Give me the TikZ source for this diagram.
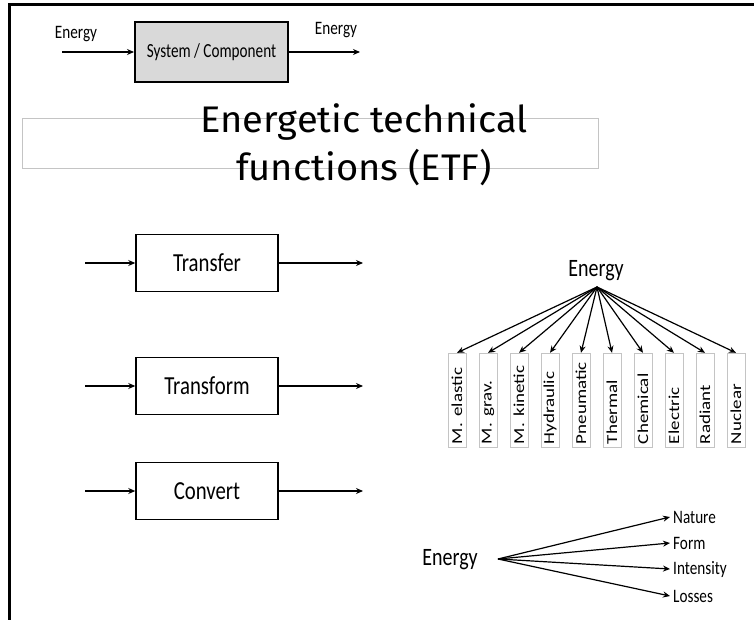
\documentclass[tikz,border=0pt]{standalone}
\usepackage{fontspec}
\setmainfont{Carlito}
\newfontfamily\titlefont{Fira Sans}
\usetikzlibrary{arrows.meta, positioning}
\definecolor{boxgray}{HTML}{D9D9D9}
\definecolor{framegray}{HTML}{C4C4C4}
\newcommand{\squish}[1]{\scalebox{0.8}[1]{#1}}
\newcommand{\squishup}[1]{\scalebox{1}[0.8]{#1}}

\begin{document}
\begin{tikzpicture}[x=1pt, y=-1pt, font=\fontsize{26}{28}\selectfont,
    fbox/.style={draw, line width=1.5pt, minimum width=142pt, minimum height=57pt},
    arr/.style={-{Stealth[length=7pt, width=6pt]}, line width=1.4pt},
    kind/.style={draw=framegray, rotate=90, text width=88pt, align=left, inner xsep=3pt,
      inner ysep=0pt, minimum height=18pt, font=\fontsize{19}{20}\selectfont}]
    \useasboundingbox (0,0) rectangle (754,620);
    % frame
    \draw[line width=3pt] (9,620) -- (9,5) -- (754,5);
    % system / component
    \node[fbox, fill=boxgray, line width=2pt, minimum width=153pt, minimum height=60pt,
      font=\fontsize{20}{22}\selectfont] (sys) at (211.5,52) {\scalebox{0.76}[1]{System / Component}};
    \coordinate (sysin) at (62,52);
    \coordinate (sysout) at (360,52);
    \draw[arr, line width=2pt] (sysin) -- (sys);
    \draw[arr, line width=2pt] (sys) -- (sysout);
    \node[font=\fontsize{19}{21}\selectfont] (ein) at (76,34) {\squish{Energy}};
    \node[font=\fontsize{19}{21}\selectfont] (eout) at (336,30) {\squish{Energy}};
    % title
    \node[draw=framegray, minimum width=576pt, minimum height=50pt] (titlebox) at (310,143) {};
    \node[align=center, font=\titlefont\fontsize{37}{48}\selectfont] (title) at (364,145)
      {\scalebox{1.03}[1]{Energetic technical}\\\scalebox{1.03}[1]{functions (ETF)}};
    % ETF boxes
    \foreach \name/\txt/\yy in {transfer/Transfer/263, transform/Transform/386, convert/Convert/491}{
      \node[fbox] (\name) at (207,\yy) {\squish{\txt}};
      \coordinate (\name-in) at (85,\yy);
      \coordinate (\name-out) at (363,\yy);
      \draw[arr] (\name-in) -- (\name);
      \draw[arr] (\name) -- (\name-out);
    }
    % energy kinds
    \node[font=\fontsize{25}{27}\selectfont] (etree) at (596,271) {\squish{Energy}};
    \coordinate (apex) at (597,287);
    \foreach \lab [count=\i] in {M. elastic, M. grav., M. kinetic, Hydraulic, Pneumatic, Thermal, Chemical, Electric, Radiant, Nuclear}{
      \node[kind] (kind\i) at ({426+31*\i},400) {\squishup{\lab}};
      \draw[arr, line width=1.2pt] (apex) -- (kind\i.east);
    }
    % energy properties
    \node[font=\fontsize{25}{27}\selectfont] (eprop) at (450,560) {\squish{Energy}};
    \coordinate (papex) at (498,559);
    \foreach \lab/\yy [count=\i] in {Nature/517, Form/543, Intensity/569, Losses/596}{
      \node[anchor=west, inner xsep=3pt, font=\fontsize{19}{21}\selectfont] (prop\i) at (670,\yy) {\squish{\lab}};
      \draw[arr, line width=1.2pt] (papex) -- (prop\i.west);
    }
\end{tikzpicture}
\end{document}
